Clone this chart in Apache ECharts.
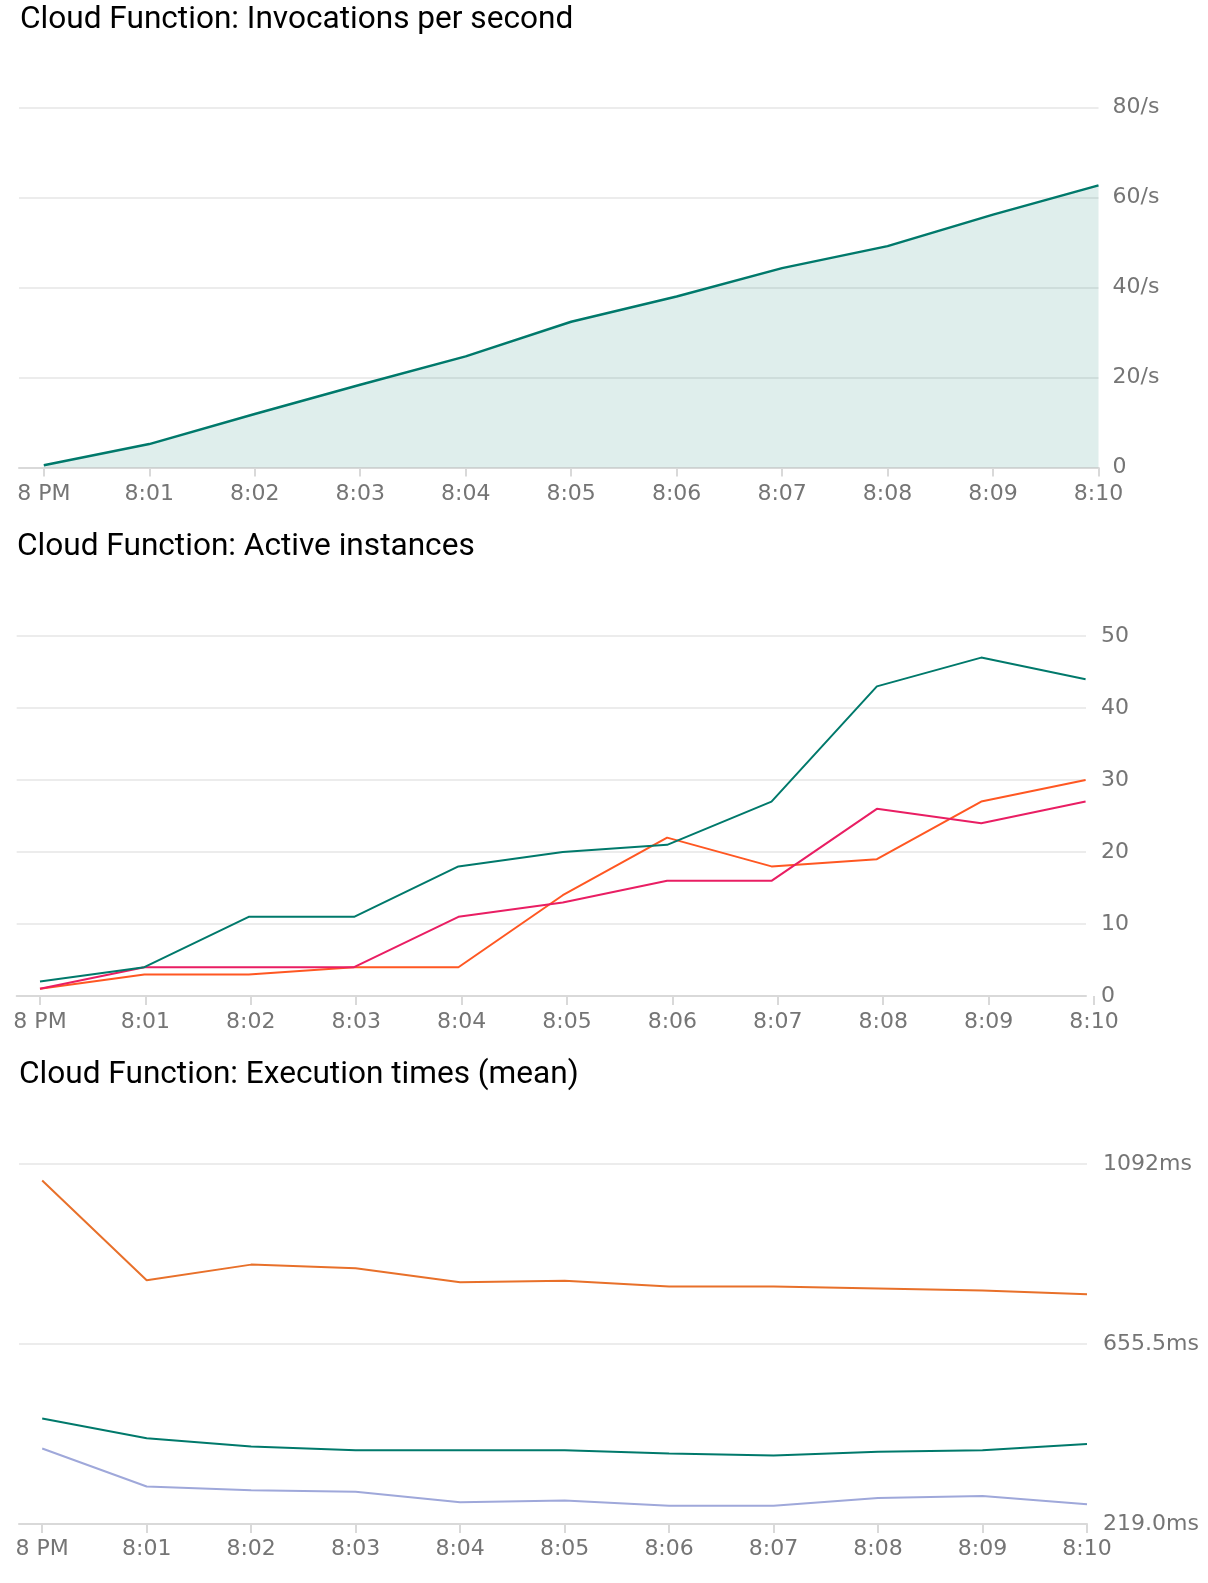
<!DOCTYPE html>
<html>
<head>
<meta charset="utf-8">
<script src="https://cdn.jsdelivr.net/npm/echarts@6/dist/echarts.min.js"></script>
<style>
html,body{margin:0;padding:0;background:#fff;}
#c{width:1208px;height:1583px;}
</style>
</head>
<body>
<div id="c"></div>
<script>
// ---- tick labels ----
const xTickLabels = ['8 PM','8:01','8:02','8:03','8:04','8:05','8:06','8:07','8:08','8:09','8:10'];
const xTickMinutes = [0,1,2,3,4,5,6,7,8,9,10];
const invTicks = [0,20,40,60,80];
const instTicks = [0,10,20,30,40,50];
const execTicks = [219.0,655.5,1092];

// ---- chart 1: invocations per second ----
const invMinutes = [0,1,2,3,4,5,6,7,8,9,10];
const invValues = [0.5,5.2,11.9,18.4,24.7,32.4,38.0,44.3,49.2,56.2,62.7];

// ---- chart 2: active instances ----
const instMinutes = [0,0.99,1.98,2.98,3.97,4.96,5.95,6.94,7.94,8.93,9.92];
const instGreen  = [2,4,11,11,18,20,21,27,43,47,44];
const instPink   = [1,4,4,4,11,13,16,16,26,24,27];
const instOrange = [1,3,3,4,4,14,22,18,19,27,30];

// ---- chart 3: execution times (mean) ----
const execMinutes = [0,1,2,3,4,5,6,7,8,9,10];
const execOrange   = [1052,810,848,839,805,809,795,795,790,785,776];
const execGreen    = [475,427,407,398,398,398,390,385,394,398,413];
const execLavender = [402,310,301,297,272,276,263,263,282,287,267];

const zip = (xs, ys) => xs.map((x, i) => [x, ys[i]]);

const LABEL_FONT = 'DejaVu Sans';
const LABEL_COLOR = '#757575';
const GRID_COLOR = '#ececec';
const AXIS_COLOR = '#d9d9d9';

function xAxisFor(gridIndex, min, max, margin, opts) {
  opts = opts || {};
  return {
    type: 'value', gridIndex: gridIndex, min: min, max: max,
    axisLine: {show: opts.line !== false, lineStyle: {color: AXIS_COLOR, width: 2}},
    axisTick: {show: opts.ticks !== false, customValues: xTickMinutes, length: 9, lineStyle: {color: AXIS_COLOR, width: 2}},
    axisLabel: {show: opts.labels !== false, customValues: xTickMinutes, margin: margin,
      fontFamily: LABEL_FONT, fontSize: 22, color: LABEL_COLOR,
      formatter: v => xTickLabels[xTickMinutes.indexOf(Math.round(v))]},
    splitLine: {show: false}
  };
}
function yAxisFor(gridIndex, min, max, ticks, fmt, margin) {
  return {
    type: 'value', gridIndex: gridIndex, position: 'right', min: min, max: max,
    axisLine: {show: false},
    axisTick: {show: false, customValues: ticks},
    axisLabel: {customValues: ticks, margin: margin, fontFamily: LABEL_FONT, fontSize: 22,
      color: LABEL_COLOR, formatter: fmt},
    splitLine: {show: true, lineStyle: {color: GRID_COLOR, width: 2}}
  };
}
function lineSeries(xi, yi, data, color, extra) {
  return Object.assign({
    type: 'line', xAxisIndex: xi, yAxisIndex: yi, data: data, symbol: 'none',
    lineStyle: {color: color, width: 2}, itemStyle: {color: color}, z: 3
  }, extra || {});
}

const titleStyle = {fontFamily: 'Roboto', fontSize: 31.6, color: '#000', fontWeight: 'normal'};

const option = {
  animation: false,
  backgroundColor: '#fff',
  title: [
    {text: 'Cloud Function: Invocations per second', left: 20, top: 4, padding: 0, textStyle: titleStyle},
    {text: 'Cloud Function: Active instances', left: 17, top: 531, padding: 0, textStyle: titleStyle},
    {text: 'Cloud Function: Execution times (mean)', left: 19, top: 1059, padding: 0, textStyle: titleStyle}
  ],
  grid: [
    {left: 19, right: 1208 - 1098.5, top: 107.5, height: 360},
    {left: 16.7, right: 1208 - 1086, top: 636, height: 360},
    {left: 16.7, right: 1208 - 1094, top: 636, height: 360},
    {left: 19, right: 1208 - 1087, top: 1164, height: 360}
  ],
  xAxis: [
    xAxisFor(0, -0.235, 10, 16),
    xAxisFor(1, -0.221, 9.924, 15, {ticks: false, labels: false}),
    xAxisFor(2, -0.221, 10, 15, {line: false}),
    xAxisFor(3, -0.222, 10, 14)
  ],
  yAxis: [
    yAxisFor(0, 0, 80, invTicks, v => v === 0 ? '0' : v + '/s', 14),
    yAxisFor(1, 0, 50, instTicks, v => String(v), 15),
    {type: 'value', gridIndex: 2, min: 0, max: 50, show: false, splitLine: {show: false}},
    yAxisFor(3, 219, 1092, execTicks, v => (v >= 1000 ? v.toFixed(0) : v.toFixed(1)) + 'ms', 16)
  ],
  series: [
    lineSeries(0, 0, zip(invMinutes, invValues), '#00796b', {areaStyle: {color: 'rgba(0,121,107,0.125)', opacity: 1}, lineStyle: {color: '#00796b', width: 2.5}}),
    lineSeries(1, 1, zip(instMinutes, instOrange), '#ff5722'),
    lineSeries(1, 1, zip(instMinutes, instPink), '#e91e63'),
    lineSeries(1, 1, zip(instMinutes, instGreen), '#00796b'),
    lineSeries(3, 3, zip(execMinutes, execOrange), '#e8702a'),
    lineSeries(3, 3, zip(execMinutes, execLavender), '#9fa8da'),
    lineSeries(3, 3, zip(execMinutes, execGreen), '#00796b')
  ]
};

const chart = echarts.init(document.getElementById('c'), null, {renderer: 'canvas', width: 1208, height: 1583});
chart.setOption(option);
</script>
</body>
</html>
